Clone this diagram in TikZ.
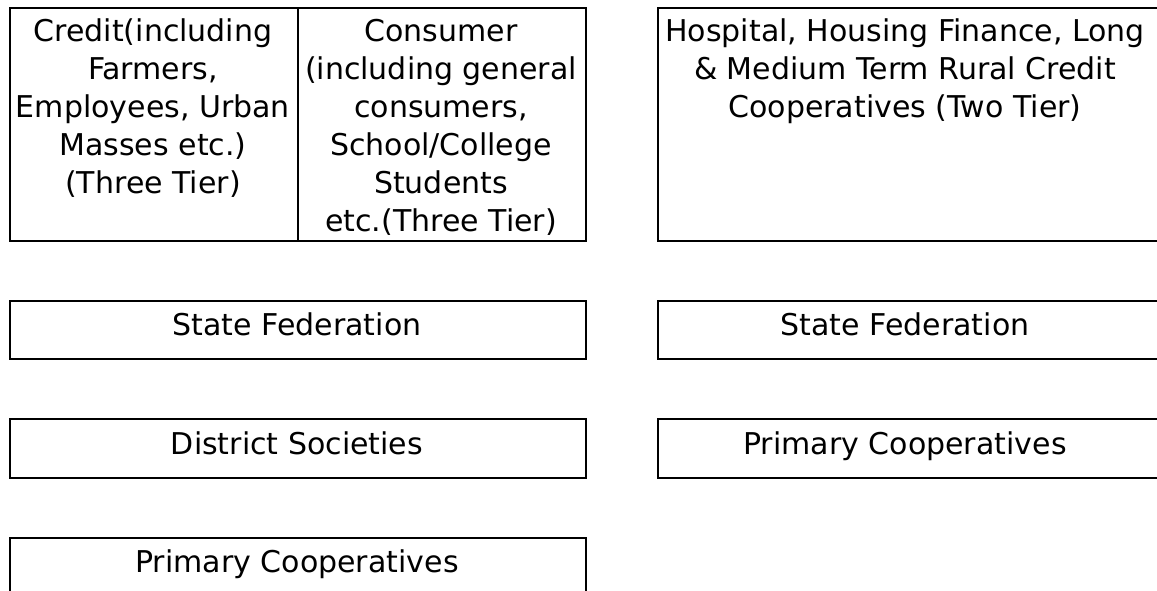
\documentclass[tikz,border=0pt]{standalone}
\usepackage{fontspec}
\setmainfont{DejaVu Sans}
\begin{document}
\begin{tikzpicture}[x=1pt,y=-1pt,
  frame/.style={draw=black, line width=2.2pt, inner sep=0pt, anchor=north west},
  lbl/.style={anchor=north, inner sep=0pt, align=center,
              font=\fontsize{30}{38}\selectfont}]
\useasboundingbox (0,0) rectangle (1157,590);
\begin{scope}
  \clip (0,0) rectangle (1157,590);
  % three-tier table with two cells
  \node[frame, minimum width=576pt, minimum height=233pt] (table) at (9,7) {};
  \coordinate (divtop) at (298,7);
  \coordinate (divbot) at (298,240);
  \draw[line width=2.2pt] (divtop) -- (divbot);
  % two-tier box on the right (runs past the right edge)
  \node[frame, minimum width=560pt, minimum height=233pt] (twotier) at (657,7) {};
  % left column of levels
  \node[frame, minimum width=576pt, minimum height=58pt] (lstate) at (9,300) {};
  \node[frame, minimum width=576pt, minimum height=59pt] (ldist) at (9,418) {};
  \node[frame, minimum width=576pt, minimum height=80pt] (lprim) at (9,537) {};
  % right column of levels
  \node[frame, minimum width=560pt, minimum height=58pt] (rstate) at (657,300) {};
  \node[frame, minimum width=560pt, minimum height=59pt] (rprim) at (657,418) {};
\end{scope}

% labels (north = baseline minus strut height)
\node[lbl] (credit) at (153,15) {\strut Credit(including\\Farmers,\\Employees, Urban\\Masses etc.)\\(Three Tier)};
\node[lbl] (consumer) at (441,15) {\strut Consumer\\(including general\\consumers,\\School/College\\Students\\etc.(Three Tier)};
\node[lbl] (hospital) at (905,15) {\strut Hospital, Housing Finance, Long\\\& Medium Term Rural Credit\\Cooperatives (Two Tier)};

\node[lbl] (lstatet) at (297,308.4) {\strut State Federation};
\node[lbl] (ldistt) at (297,427.4) {\strut District Societies};
\node[lbl] (lprimt) at (297,545.4) {\strut Primary Cooperatives};
\node[lbl] (rstatet) at (905,308.4) {\strut State Federation};
\node[lbl] (rprimt) at (905,427.4) {\strut Primary Cooperatives};
\end{tikzpicture}
\end{document}
